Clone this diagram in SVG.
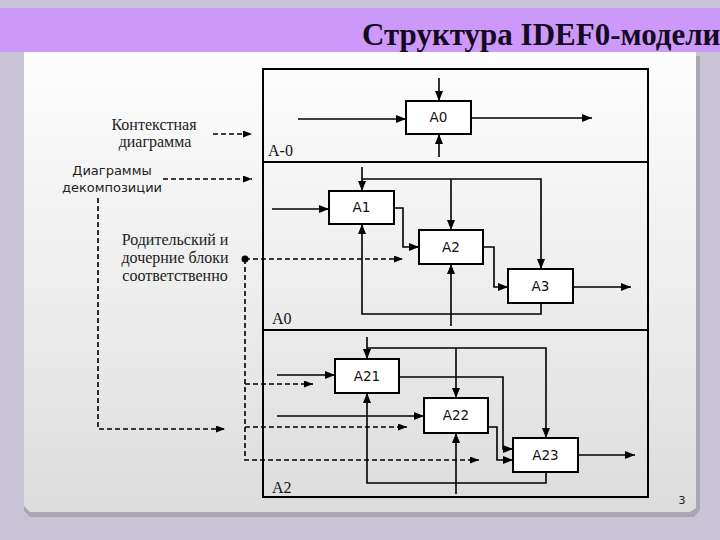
<svg xmlns="http://www.w3.org/2000/svg" width="720" height="540" viewBox="0 0 720 540">
<defs>
<linearGradient id="slideGrad" x1="0" y1="0" x2="0" y2="1">
<stop offset="0" stop-color="#fdfdfd"/>
<stop offset="0.5" stop-color="#eeeeee"/>
<stop offset="1" stop-color="#dcdcdc"/>
</linearGradient>
<marker id="arr" markerUnits="userSpaceOnUse" markerWidth="10" markerHeight="8" refX="10" refY="4" orient="auto">
<path d="M0,0 L10,4 L0,8 z" fill="#000"/>
</marker>
<marker id="arrs" markerUnits="userSpaceOnUse" markerWidth="9" markerHeight="7" refX="9" refY="3.5" orient="auto">
<path d="M0,0 L9,3.5 L0,7 z" fill="#000"/>
</marker>
</defs>
<style>
.box{fill:#fff;stroke:#000;stroke-width:2}
.frame{fill:none;stroke:#000;stroke-width:2}
.lbl{font-family:"DejaVu Sans",sans-serif;font-size:13.5px;fill:#111;text-anchor:middle}
.sec{font-family:"Liberation Serif",serif;font-size:16px;fill:#111}
.note{font-family:"Liberation Serif",serif;font-size:16px;fill:#222;text-anchor:middle}
.notes{font-family:"DejaVu Sans",sans-serif;font-size:13px;fill:#222;text-anchor:middle}
.c{fill:none;stroke:#000;stroke-width:1.6;marker-end:url(#arr)}
.d{fill:none;stroke:#000;stroke-width:1.6;stroke-dasharray:5,3;marker-end:url(#arrs)}
</style>
<rect x="0" y="0" width="720" height="540" fill="#c9c4d5"/>
<polygon points="24,56 700,56 700,510 694,517 30,517 24,511" fill="#a9a6b2"/>
<polygon points="24,52 696,52 696,508 690,512 30,512 24,506" fill="url(#slideGrad)"/>
<rect x="0" y="8" width="720" height="44" fill="#cc99fb"/>
<text x="362" y="45" font-family="Liberation Serif,serif" font-size="31" font-weight="bold" fill="#150a20">Структура IDEF0-модели</text>
<g id="frame">
<rect class="frame" x="263" y="69" width="385" height="428"/>
<line x1="263" y1="162" x2="648" y2="162" stroke="#000" stroke-width="2"/>
<line x1="263" y1="330" x2="648" y2="330" stroke="#000" stroke-width="2"/>
<text class="sec" x="268" y="156">A-0</text>
<text class="sec" x="272" y="324">A0</text>
<text class="sec" x="272" y="493">A2</text>
</g>
<g id="notes">
<text class="note" x="154" y="130">Контекстная</text>
<text class="note" x="155" y="147">диаграмма</text>
<text class="notes" x="112" y="175">Диаграммы</text>
<text class="notes" x="112" y="192">декомпозиции</text>
<text class="note" x="175" y="245">Родительский и</text>
<text class="note" x="175" y="263">дочерние блоки</text>
<text class="note" x="175" y="281">соответственно</text>
</g>
<g id="connectors">
<path class="c" d="M298,119 H406"/>
<path class="c" d="M471,118 H592"/>
<path class="c" d="M439,78 V101"/>
<path class="c" d="M439,157 V134"/>
<path class="c" d="M272,209 H329"/>
<path class="c" d="M394,208 H403 V247 H419"/>
<path class="c" d="M483,247 H494 V287 H508"/>
<path class="c" d="M573,287 H631"/>
<path class="c" d="M362,167 V191"/>
<path class="c" d="M362,179 H541 V269"/>
<path class="c" d="M451,179 V230"/>
<path class="c" d="M541,303 V314 H362 V224"/>
<path class="c" d="M451,326 V264"/>
<path class="c" d="M367,337 V359"/>
<path class="c" d="M367,348 H546 V438"/>
<path class="c" d="M456,348 V398"/>
<path class="c" d="M277,375 H335"/>
<path class="c" d="M399,377 H503 V449 H513"/>
<path class="c" d="M488,427 H497 V460 H513"/>
<path class="c" d="M578,455 H635"/>
<path class="c" d="M546,472 V483 H367 V393"/>
<path class="c" d="M456,494 V433"/>
<path class="c" d="M277,416 H424"/>
<path class="d" d="M213,134 H252"/>
<path class="d" d="M163,179 H252"/>
<path class="d" d="M245,259 H403"/>
<path class="d" d="M245,259 V460 H479"/>
<path class="d" d="M245,384 H313"/>
<path class="d" d="M245,427 H407"/>
<path class="d" d="M98,198 V429 H225"/>
<circle cx="245" cy="259" r="3.5" fill="#000"/>
</g>
<g id="A0"><rect class="box" x="406" y="101" width="65" height="33"/><text class="lbl" x="438.5" y="122">A0</text></g>
<g id="A1"><rect class="box" x="329" y="191" width="65" height="33"/><text class="lbl" x="361.5" y="212">A1</text></g>
<g id="A2"><rect class="box" x="419" y="230" width="64" height="34"/><text class="lbl" x="451" y="252">A2</text></g>
<g id="A3"><rect class="box" x="508" y="269" width="65" height="34"/><text class="lbl" x="540.5" y="291">A3</text></g>
<g id="A21"><rect class="box" x="335" y="359" width="64" height="34"/><text class="lbl" x="367" y="381">A21</text></g>
<g id="A22"><rect class="box" x="424" y="398" width="64" height="35"/><text class="lbl" x="456" y="420">A22</text></g>
<g id="A23"><rect class="box" x="513" y="438" width="65" height="34"/><text class="lbl" x="545.5" y="460">A23</text></g>
<text x="682" y="504" font-family="DejaVu Sans,sans-serif" font-size="11" fill="#222" text-anchor="middle">3</text>
</svg>
